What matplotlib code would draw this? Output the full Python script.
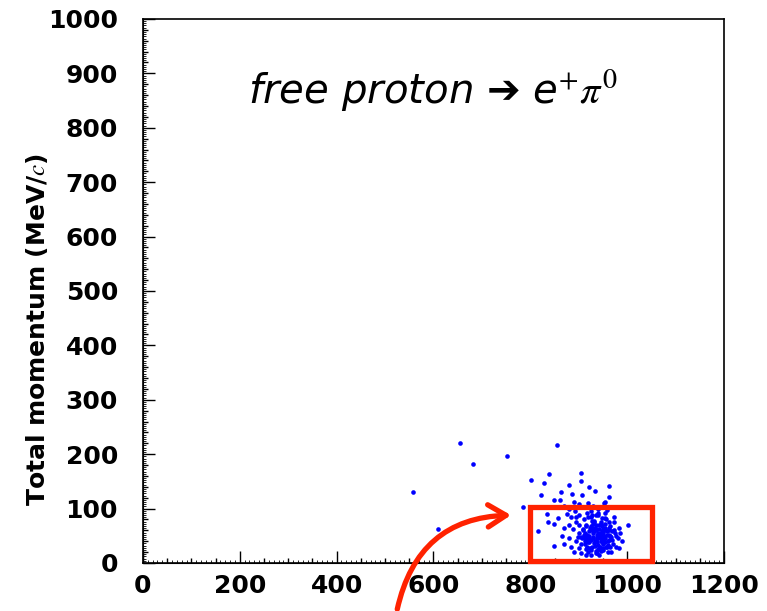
import numpy as np
import matplotlib
matplotlib.use('Agg')
import matplotlib.pyplot as plt
from matplotlib.patches import Rectangle, FancyArrowPatch

plt.rcParams['font.family'] = ['DejaVu Sans']
plt.rcParams['mathtext.fontset'] = 'stix'

# events outside the main cluster
out_x = [557, 609, 654, 681, 752, 855, 785]
out_y = [130, 62, 221, 182, 197, 217, 103]

# upper tail of the cluster
tail_x = [801, 839, 828, 905, 905, 880, 963, 921, 934, 822, 863, 886, 907, 849, 861, 963, 954, 973, 1002, 816]
tail_y = [153, 164, 147, 165, 151, 143, 142, 140, 132, 125, 131, 127, 125, 116, 116, 121, 112, 85, 70, 59]

# dense core
core_x = [890, 905, 915, 925, 935, 942, 950, 960, 967, 983,
          880, 865, 895, 905, 912, 920, 928, 935, 940, 948, 955, 962, 970, 981, 990,
          849, 870, 885, 900, 918, 930, 938, 945, 952, 958, 965, 975, 969, 983,
          857, 849, 836, 834, 870, 880, 888, 895, 900, 908, 915, 922, 928, 935, 942, 948, 955, 962, 973,
          875, 885, 892, 900, 910, 918, 925, 932, 940, 948, 955, 959, 952, 940, 930, 920, 910, 900, 890, 880, 870,
          925, 932, 938, 945, 918, 912, 950, 958, 928, 936, 944, 922, 940, 948, 933, 926, 955, 915, 905, 962,
          912, 918, 924, 930, 936, 942, 948, 954, 960, 966,
          915, 921, 927, 933, 939, 945, 951, 957, 963,
          908, 914, 920, 926, 932, 938, 944, 950, 956, 962, 968,
          910, 916, 922, 928, 934, 940, 946, 952, 958, 964,
          918, 924, 930, 936, 942, 948, 954, 960,
          900, 906, 972, 978, 986, 895, 898, 976,
          925, 931, 937, 943, 949, 955,
          920, 935, 950, 965,
          940, 945, 930, 915]
core_y = [20, 18, 25, 15, 22, 15, 28, 20, 20, 28,
          46, 50, 40, 35, 45, 38, 30, 40, 33, 45, 38, 42, 35, 46, 40,
          31, 35, 30, 28, 28, 48, 52, 55, 50, 58, 50, 55, 59, 64,
          83, 72, 75, 90, 65, 70, 62, 75, 55, 60, 68, 58, 65, 70, 62, 68, 72, 65, 75,
          90, 85, 95, 88, 80, 92, 85, 78, 88, 82, 92, 97, 110, 100, 105, 110, 102, 108, 112, 100, 105,
          42, 36, 45, 40, 52, 55, 35, 30, 60, 62, 48, 44, 26, 58, 32, 24, 46, 50, 47, 52,
          35, 42, 28, 55, 60, 25, 38, 65, 33, 48,
          70, 50, 78, 40, 45, 72, 56, 30, 60,
          62, 40, 85, 68, 75, 18, 30, 62, 80, 75, 42,
          52, 48, 38, 88, 65, 55, 22, 44, 52, 68,
          30, 65, 45, 88, 70, 50, 60, 40,
          70, 45, 60, 50, 55, 85, 48, 30,
          95, 58, 38, 52, 45, 82,
          20, 18, 24, 30,
          92, 76, 72, 15]

xs = out_x + tail_x + core_x
ys = out_y + tail_y + core_y

fig = plt.figure(figsize=(7.67, 6.11), dpi=100)
ax = fig.add_axes([0.1864, 0.0786, 0.7575, 0.8904])

ax.scatter(xs, ys, s=11, color='#0000ff', linewidths=0, zorder=3)

ax.set_xlim(0, 1200)
ax.set_ylim(0, 1000)
ax.set_xticks(np.arange(0, 1201, 200))
ax.set_xticks(np.arange(0, 1201, 50), minor=True)
ax.set_yticks(np.arange(0, 1001, 100))
ax.set_yticks(np.arange(0, 1001, 20), minor=True)
ax.tick_params(which='both', direction='in', top=False, right=False, width=1.0)
ax.tick_params(which='major', length=8.5, labelsize=18)
ax.tick_params(which='minor', length=3.6)
ax.tick_params(axis='y', which='major', pad=18)
ax.tick_params(axis='x', which='major', pad=8)
for lab in ax.get_xticklabels() + ax.get_yticklabels():
    lab.set_fontweight('bold')

# fine third-level ticks along the axes
sx = ax.secondary_xaxis('bottom')
sx.set_xticks(np.arange(0, 1201, 10))
sx.tick_params(direction='in', length=2, width=0.6, labelbottom=False)
sy = ax.secondary_yaxis('left')
sy.set_yticks(np.arange(0, 1001, 4))
sy.tick_params(direction='in', length=2, width=0.6, labelleft=False)

for sp in ax.spines.values():
    sp.set_linewidth(1.2)

ax.set_ylabel('Total momentum (MeV/$\\mathbf{\\mathit{c}}$)', fontsize=18, fontweight='bold')
ax.yaxis.set_label_coords(-0.16, 0.43)

ax.text(0.18, 0.87, 'free proton \u2794 e$^{+}\\pi^{0}$', transform=ax.transAxes,
        fontsize=29, style='italic', family=['DejaVu Sans'], va='center')

# highlight box and arrow
ax.add_patch(Rectangle((800, 3), 252, 100, fill=False, edgecolor='#ff2200',
                       linewidth=3.8, clip_on=False, zorder=4))
arr = FancyArrowPatch((524, -90), (766, 88), connectionstyle='arc3,rad=-0.4',
                      arrowstyle='->', color='#ff2200',
                      linewidth=3.8, clip_on=False, zorder=4)
arr.set_arrowstyle('->', head_length=13, head_width=8)
ax.add_patch(arr)

fig.savefig('out.png', dpi=100)
